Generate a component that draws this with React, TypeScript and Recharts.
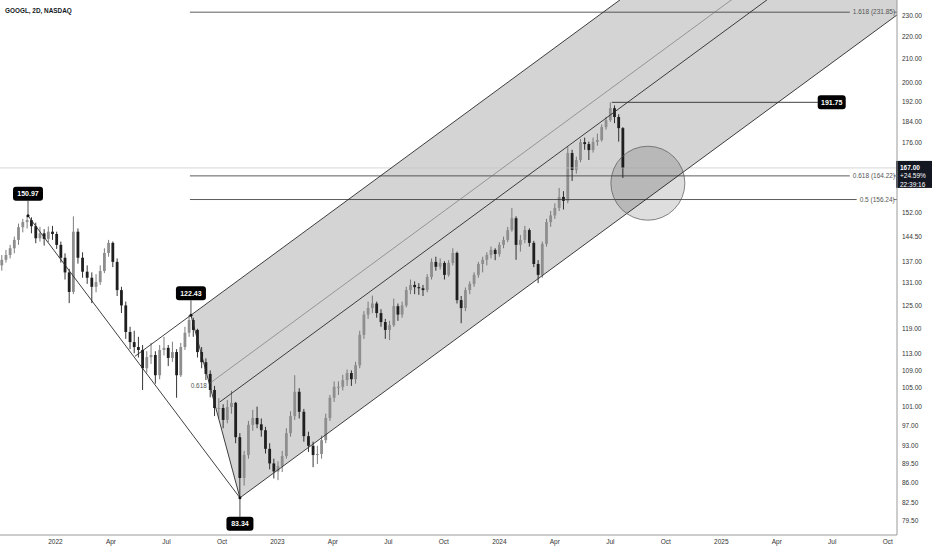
import {
  Area,
  Bar,
  ComposedChart,
  ReferenceDot,
  ReferenceLine,
  XAxis,
  YAxis,
} from "recharts";

// weekly candles, first one on this date: [open, high, low, close]
const FIRST_WEEK = "2021-10-04";
const ohlc: [number, number, number, number][] = [
  [136.0, 139.0, 134.5, 137.6], [137.6, 140.5, 136.8, 139.0], [139.0, 142.0, 138.0, 141.0],
  [141.0, 144.5, 139.5, 143.5], [143.5, 148.5, 142.0, 147.4], [147.4, 150.0, 145.8, 149.0],
  [149.0, 150.97, 147.0, 149.6], [149.6, 150.5, 145.5, 147.7], [147.7, 148.8, 142.5, 144.0],
  [144.0, 147.5, 143.0, 145.5], [145.5, 146.8, 141.8, 143.8], [143.8, 147.6, 142.8, 146.0],
  [146.0, 147.8, 143.5, 145.3], [145.3, 146.0, 140.8, 142.0], [142.0, 143.0, 136.8, 138.2],
  [138.2, 139.5, 132.0, 134.0], [134.0, 135.0, 125.6, 128.6], [128.6, 150.8, 128.0, 146.0],
  [146.0, 147.0, 136.5, 138.2], [138.2, 139.8, 132.5, 134.2], [134.2, 136.0, 130.8, 132.5],
  [132.5, 134.0, 125.6, 130.0], [130.0, 133.5, 128.5, 131.3], [131.3, 136.0, 130.5, 134.4],
  [134.4, 141.0, 133.8, 139.6], [139.6, 143.5, 138.5, 142.6], [142.6, 143.0, 135.5, 137.0],
  [137.0, 138.0, 127.5, 129.1], [129.1, 130.0, 123.0, 125.0], [125.0, 126.0, 116.5, 118.2],
  [118.2, 119.5, 114.0, 115.7], [115.7, 118.5, 113.0, 114.5], [114.5, 117.0, 112.0, 113.8],
  [113.8, 115.0, 104.6, 109.5], [109.5, 113.5, 108.5, 112.1], [112.1, 115.5, 110.5, 112.6],
  [112.6, 113.5, 106.0, 107.9], [107.9, 115.0, 107.0, 113.8], [113.8, 117.0, 112.5, 114.3],
  [114.3, 115.0, 110.0, 111.9], [111.9, 115.8, 111.0, 113.3], [113.3, 114.0, 102.9, 107.9],
  [107.9, 115.5, 107.5, 114.5], [114.5, 119.5, 113.8, 118.0], [118.0, 122.43, 117.0, 121.2],
  [121.2, 121.8, 117.0, 118.7], [118.7, 119.0, 112.0, 113.3], [113.3, 114.5, 109.5, 110.9],
  [110.9, 111.8, 106.8, 108.2], [108.2, 109.0, 103.0, 104.6], [104.6, 105.5, 99.0, 100.7],
  [100.7, 102.8, 98.5, 100.7], [100.7, 101.5, 96.5, 98.2], [98.2, 102.4, 97.5, 100.9],
  [100.9, 104.4, 99.5, 101.8], [101.8, 102.0, 93.5, 94.7], [94.7, 95.5, 83.34, 86.9],
  [86.9, 92.0, 85.5, 91.2], [91.2, 98.0, 90.5, 97.2], [97.2, 100.3, 96.0, 98.6],
  [98.6, 101.0, 96.5, 97.3], [97.3, 98.5, 94.8, 96.1], [96.1, 96.8, 91.5, 92.4],
  [92.4, 93.5, 88.5, 89.6], [89.6, 90.5, 86.8, 88.1], [88.1, 90.0, 86.5, 89.1],
  [89.1, 92.0, 88.0, 91.0], [91.0, 96.5, 90.5, 95.5], [95.5, 100.0, 94.8, 99.0],
  [99.0, 107.9, 98.2, 104.2], [104.2, 105.0, 98.5, 99.9], [99.9, 100.5, 93.8, 94.9],
  [94.9, 95.8, 91.8, 93.0], [93.0, 93.8, 88.9, 91.2], [91.2, 93.0, 89.5, 91.4],
  [91.4, 95.0, 90.5, 94.1], [94.1, 99.5, 93.5, 98.6], [98.6, 103.5, 98.0, 102.9],
  [102.9, 106.5, 102.0, 105.3], [105.3, 106.5, 103.5, 105.3], [105.3, 108.0, 104.5, 106.8],
  [106.8, 109.2, 105.5, 108.4], [108.4, 109.0, 105.5, 107.0], [107.0, 111.0, 106.0, 110.2],
  [110.2, 118.5, 109.5, 117.5], [117.5, 123.5, 116.5, 122.6], [122.6, 126.0, 121.5, 124.3],
  [124.3, 127.6, 123.0, 125.5], [125.5, 126.0, 121.8, 123.0], [123.0, 124.0, 119.5, 120.7],
  [120.7, 121.5, 116.5, 118.7], [118.7, 121.0, 116.2, 119.9], [119.9, 126.8, 119.5, 124.8],
  [124.8, 125.5, 121.0, 122.6], [122.6, 126.0, 121.8, 125.0], [125.0, 130.0, 124.5, 129.1],
  [129.1, 132.0, 128.0, 130.5], [130.5, 131.5, 128.0, 129.9], [129.9, 131.0, 127.8, 129.6],
  [129.6, 130.5, 127.5, 129.1], [129.1, 133.5, 128.5, 132.7], [132.7, 138.0, 132.0, 137.0],
  [137.0, 138.5, 134.5, 135.6], [135.6, 138.0, 134.8, 136.7], [136.7, 137.2, 132.0, 133.3],
  [133.3, 137.5, 132.8, 136.7], [136.7, 141.0, 136.0, 139.6], [139.6, 140.0, 125.5, 126.4],
  [126.4, 127.5, 120.4, 124.3], [124.3, 129.8, 123.5, 129.1], [129.1, 131.5, 128.0, 130.8],
  [130.8, 134.0, 130.0, 133.3], [133.3, 137.0, 132.5, 136.4], [136.4, 138.5, 134.0, 137.6],
  [137.6, 139.8, 136.0, 139.0], [139.0, 141.5, 138.0, 140.5], [140.5, 141.0, 137.5, 139.3],
  [139.3, 142.8, 138.5, 142.0], [142.0, 144.5, 141.0, 143.5], [143.5, 147.5, 142.8, 146.5],
  [146.5, 153.5, 146.0, 150.2], [150.2, 150.8, 137.6, 142.0], [142.0, 145.0, 140.0, 143.5],
  [143.5, 147.8, 142.5, 146.5], [146.5, 147.0, 141.5, 142.6], [142.6, 143.2, 135.5, 136.4],
  [136.4, 137.5, 131.0, 133.3], [133.3, 143.0, 132.5, 142.3], [142.3, 150.0, 141.5, 149.0],
  [149.0, 152.5, 147.5, 151.1], [151.1, 155.0, 150.0, 153.5], [153.5, 160.1, 152.5, 157.1],
  [157.1, 159.0, 153.0, 155.8], [155.8, 174.5, 155.0, 172.3], [172.3, 173.5, 162.5, 166.3],
  [166.3, 171.0, 165.0, 169.8], [169.8, 177.5, 169.0, 176.3], [176.3, 178.0, 173.5, 175.6],
  [175.6, 176.5, 169.8, 173.4], [173.4, 178.0, 172.5, 176.4], [176.4, 179.5, 175.0, 177.1],
  [177.1, 183.0, 176.5, 182.0], [182.0, 186.0, 181.0, 184.7], [184.7, 191.75, 184.0, 189.4],
  [189.4, 190.5, 183.5, 185.9], [185.9, 187.0, 176.5, 181.6], [181.6, 182.0, 163.5, 167.0],
];

// x is measured in months from Jan 2022
const xTicks = [0, 3, 6, 9, 12, 15, 18, 21, 24, 27, 30, 33, 36, 39, 42, 45];
const monthNames = ["Jan", "Feb", "Mar", "Apr", "May", "Jun", "Jul", "Aug", "Sep", "Oct", "Nov", "Dec"];
const yTicks = [79.5, 82.5, 86, 89.5, 93, 97, 101, 105, 109, 113, 119, 125, 131, 137, 144.5, 152, 176, 184, 192, 200, 210, 220, 230];

// pivots [month, price]
const peak2021: [number, number] = [-1.486, 150.97];
const peak2022: [number, number] = [7.324, 122.43];
const low2022: [number, number] = [9.973, 83.34];
const high2024: [number, number] = [30.08, 191.75];

// channel band [month, lower, upper]
const channelPts: [number, number, number][] = [
  [7.324, 122.43, 122.43],
  [9.973, 83.34, 132.1],
  [45.5, 230.5, 365.4],
];
// channel lines [[m1, p1], [m2, p2]]
const upperLine = [[4.3, 112.3], [45.5, 365.4]];
const midLine = [[8.35, 106.1], [45.5, 307.5]];
const innerLine = [[8.89, 102.0], [45.5, 291.0]];
const lowerLine = [[9.973, 83.34], [45.5, 230.5]];

// fib levels [price, label, endMonth]
const fibLevels: [number, string, number][] = [
  [231.85, "1.618 (231.85)", 42.95],
  [164.22, "0.618 (164.22)", 42.95],
  [156.24, "0.5 (156.24)", 43.32],
];
const fibStart = 7.27;
const lastPrice = 167.0;
const lastChange = "+24.59%";
const lastTimer = "22:39:16";
const zone: [number, number] = [32.03, 161.7];
const highLabelAt = 41.97;

const UP = "#8e8e8e";
const DOWN = "#1f1f1f";
const FONT = "'Liberation Sans', Arial, sans-serif";

function toMonths(d: Date) {
  const y = d.getUTCFullYear();
  const mo = d.getUTCMonth();
  const dim = new Date(Date.UTC(y, mo + 1, 0)).getUTCDate();
  return (y - 2022) * 12 + mo + (d.getUTCDate() - 1) / dim;
}

const start = new Date(FIRST_WEEK + "T00:00:00Z").getTime();
const candles = ohlc.map(([o, h, l, c], i) => ({
  t: toMonths(new Date(start + i * 7 * 86400000)),
  o,
  h,
  l,
  c,
}));
const channelData = channelPts.map(([t, lo, hi]) => ({ t, band: [lo, hi] }));

function Candle(props: any) {
  const { x, y, width, height, payload } = props;
  if (!payload || x == null) return null;
  const { o, h, l, c } = payload;
  const top = Math.min(y, y + height);
  const bot = Math.max(y, y + height);
  const span = Math.log(h) - Math.log(l);
  const py = (v: number) =>
    span > 0 ? top + ((bot - top) * (Math.log(h) - Math.log(v))) / span : top;
  const yo = py(o);
  const yc = py(c);
  const up = c >= o;
  const cx = x + width / 2;
  const bw = 2.8;
  return (
    <g>
      <line x1={cx} x2={cx} y1={top} y2={bot} stroke={up ? "#6e6e6e" : DOWN} strokeWidth={0.9} />
      <rect
        x={cx - bw / 2}
        y={Math.min(yo, yc)}
        width={bw}
        height={Math.max(1, Math.abs(yc - yo))}
        fill={up ? UP : DOWN}
      />
    </g>
  );
}

function Tag({ cx, cy, text, dir }: { cx?: number; cy?: number; text: string; dir: number }) {
  if (cx == null || cy == null) return null;
  const w = text.length > 5 ? 30 : 27;
  const boxY = dir < 0 ? cy - 29 : cy + 19;
  return (
    <g>
      <line x1={cx} x2={cx} y1={cy} y2={dir < 0 ? cy - 15 : cy + 19} stroke="#222" strokeWidth={0.8} />
      <circle cx={cx} cy={cy} r={1.5} fill="#111" />
      <rect x={cx - w / 2} y={boxY} width={w} height={14} rx={3} fill="#000" />
      <text x={cx} y={boxY + 9.6} textAnchor="middle" fill="#fff" fontSize={7} fontWeight={600} fontFamily={FONT}>
        {text}
      </text>
    </g>
  );
}

function SideTag({ cx, cy, text }: { cx?: number; cy?: number; text: string }) {
  if (cx == null || cy == null) return null;
  return (
    <g>
      <rect x={cx - 14} y={cy - 7} width={28} height={14} rx={3} fill="#000" />
      <text x={cx} y={cy + 2.6} textAnchor="middle" fill="#fff" fontSize={7} fontWeight={600} fontFamily={FONT}>
        {text}
      </text>
    </g>
  );
}

function PriceBox(props: any) {
  const vb = props.viewBox;
  if (!vb) return null;
  const x = vb.x + vb.width;
  const y = vb.y;
  return (
    <g fontFamily={FONT} fontSize={6.5} fill="#fff">
      <rect x={x - 1} y={y - 7} width={36} height={27} fill="#131722" />
      <text x={x + 3} y={y + 2.3} fontWeight={600}>{lastPrice.toFixed(2)}</text>
      <text x={x + 3} y={y + 10.5}>{lastChange}</text>
      <text x={x + 3} y={y + 18.7}>{lastTimer}</text>
    </g>
  );
}

const seg = (l: number[][]) =>
  [
    { x: l[0][0], y: l[0][1] },
    { x: l[1][0], y: l[1][1] },
  ] as any;

export default function App() {
  return (
    <div style={{ position: "relative", width: 932, height: 550, background: "#fff" }}>
      <style>{"body{margin:0}"}</style>
      <div
        style={{
          position: "absolute",
          left: 5,
          top: 7,
          fontFamily: FONT,
          fontSize: 6.4,
          fontWeight: 700,
          color: "#131722",
          zIndex: 2,
        }}
      >
        GOOGL, 2D, NASDAQ
      </div>
      <ComposedChart
        width={932}
        height={550}
        data={candles}
        margin={{ top: 0, right: 0, left: 0, bottom: 0 }}
      >
        <XAxis
          dataKey="t"
          type="number"
          domain={[-3, 45.5]}
          allowDataOverflow
          ticks={xTicks}
          tickFormatter={(m: number) => (m % 12 === 0 ? String(2022 + m / 12) : monthNames[m % 12])}
          tick={{ fill: "#333", fontSize: 6.5, fontFamily: FONT }}
          tickLine={false}
          tickSize={0}
          tickMargin={4}
          stroke="#9a9a9a"
          height={15}
        />
        <YAxis
          orientation="right"
          type="number"
          scale="log"
          domain={[77.06, 237.88]}
          allowDataOverflow
          ticks={yTicks}
          interval={0}
          tickFormatter={(v: number) => v.toFixed(2)}
          tick={{ fill: "#333", fontSize: 6.5, fontFamily: FONT, textAnchor: "start" }}
          tickLine={false}
          tickSize={0}
          tickMargin={5}
          stroke="#9a9a9a"
          width={35}
        />
        <Area
          data={channelData}
          dataKey="band"
          type="linear"
          stroke="none"
          fill="#000"
          fillOpacity={0.17}
          isAnimationActive={false}
          dot={false}
          activeDot={false}
        />
        <ReferenceLine y={lastPrice} stroke="#c4c4c4" strokeWidth={0.7} label={<PriceBox />} />
        {fibLevels.map(([p, txt, end]) => (
          <ReferenceLine
            key={txt}
            segment={[{ x: fibStart, y: p }, { x: end, y: p }] as any}
            stroke="#333"
            strokeWidth={0.8}
            ifOverflow="visible"
            label={{ value: txt, position: "right", offset: 3, fill: "#555", fontSize: 6.5, fontFamily: FONT }}
          />
        ))}
        {fibLevels.map(([p, txt]) => (
          <ReferenceLine
            key={txt + "tail"}
            segment={[{ x: 45.32, y: p }, { x: 45.5, y: p }] as any}
            stroke="#555"
            strokeWidth={0.8}
            ifOverflow="visible"
          />
        ))}
        <ReferenceLine segment={seg(upperLine)} stroke="#2a2a2a" strokeWidth={0.9} ifOverflow="hidden" />
        <ReferenceLine segment={seg(midLine)} stroke="#6a6a6a" strokeWidth={0.6} ifOverflow="hidden" />
        <ReferenceLine segment={seg(innerLine)} stroke="#2a2a2a" strokeWidth={0.9} ifOverflow="hidden" />
        <ReferenceLine segment={seg(lowerLine)} stroke="#2a2a2a" strokeWidth={0.9} ifOverflow="hidden" />
        <ReferenceLine segment={seg([peak2021, low2022])} stroke="#2a2a2a" strokeWidth={0.9} ifOverflow="hidden" />
        <ReferenceLine segment={seg([peak2022, low2022])} stroke="#2a2a2a" strokeWidth={0.9} ifOverflow="hidden" />
        <ReferenceLine
          segment={seg([high2024, [highLabelAt - 0.75, high2024[1]]])}
          stroke="#2a2a2a"
          strokeWidth={0.9}
          ifOverflow="visible"
        />
        <Bar dataKey={(d: any) => [d.l, d.h]} barSize={3} shape={Candle} isAnimationActive={false} />
        <ReferenceDot
          x={zone[0]}
          y={zone[1]}
          r={37}
          fill="#000"
          fillOpacity={0.13}
          stroke="#555"
          strokeWidth={0.7}
        />
        <ReferenceDot
          x={midLine[0][0]}
          y={midLine[0][1]}
          r={0}
          shape={(p: any) => (
            <text x={p.cx - 3} y={p.cy + 4.5} textAnchor="end" fill="#555" fontSize={6.5} fontFamily={FONT}>
              0.618
            </text>
          )}
        />
        <ReferenceDot x={peak2021[0]} y={peak2021[1]} r={0} shape={(p: any) => <Tag cx={p.cx} cy={p.cy} text="150.97" dir={-1} />} />
        <ReferenceDot x={peak2022[0]} y={peak2022[1]} r={0} shape={(p: any) => <Tag cx={p.cx} cy={p.cy} text="122.43" dir={-1} />} />
        <ReferenceDot x={low2022[0]} y={low2022[1]} r={0} shape={(p: any) => <Tag cx={p.cx} cy={p.cy} text="83.34" dir={1} />} />
        <ReferenceDot x={highLabelAt} y={high2024[1]} r={0} shape={(p: any) => <SideTag cx={p.cx} cy={p.cy} text="191.75" />} />
      </ComposedChart>
    </div>
  );
}
